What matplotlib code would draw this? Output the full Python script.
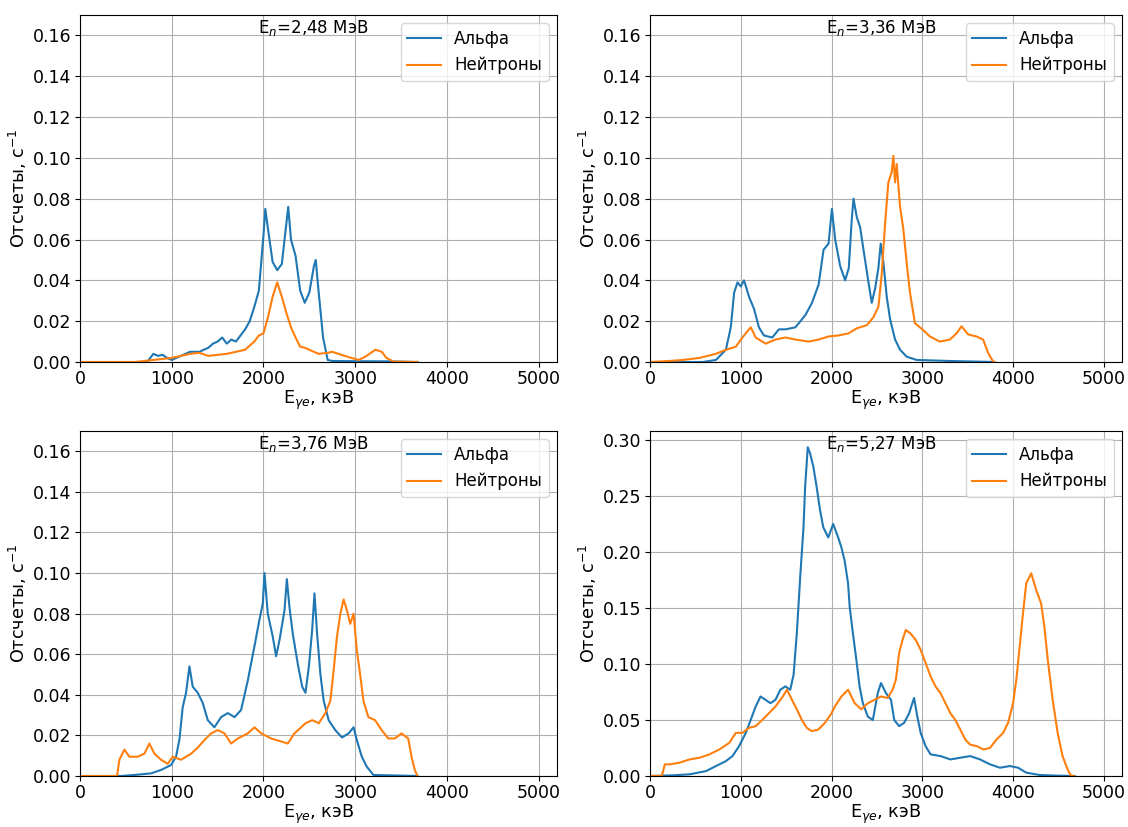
import matplotlib
matplotlib.use("Agg")
import matplotlib.pyplot as plt

plt.rcParams["font.family"] = ["DejaVu Sans"]
plt.rcParams["font.size"] = 12

# ---- spectra: (energy, keV) / (count rate, 1/s) ----
# E_n = 2.48 MeV
e1_alpha = [0, 700, 740, 800, 850, 900, 950, 1000, 1050, 1100, 1200, 1300, 1400, 1450,
            1500, 1550, 1600, 1650, 1700, 1750, 1800, 1850, 1900, 1950, 2000, 2020,
            2050, 2100, 2150, 2200, 2250, 2270, 2300, 2350, 2400, 2450, 2500, 2550,
            2570, 2600, 2650, 2700, 2750, 3000, 3400, 3680]
c1_alpha = [0, 0, 0.0005, 0.004, 0.003, 0.0035, 0.002, 0.001, 0.002, 0.003, 0.005,
            0.005, 0.007, 0.009, 0.010, 0.012, 0.009, 0.011, 0.010, 0.013, 0.016,
            0.020, 0.027, 0.035, 0.062, 0.075, 0.065, 0.049, 0.045, 0.048, 0.068,
            0.076, 0.060, 0.052, 0.035, 0.029, 0.034, 0.047, 0.050, 0.035, 0.012,
            0.001, 0.0005, 0.0004, 0.0003, 0]
e1_neut = [0, 600, 800, 900, 1000, 1100, 1200, 1300, 1400, 1500, 1600, 1700, 1800,
           1850, 1900, 1950, 2000, 2050, 2100, 2150, 2200, 2250, 2300, 2350, 2400,
           2450, 2500, 2600, 2700, 2750, 2850, 2960, 3040, 3110, 3220, 3290, 3340,
           3420, 3680]
c1_neut = [0, 0, 0.001, 0.0015, 0.002, 0.003, 0.004, 0.0045, 0.003, 0.0035, 0.004,
           0.005, 0.006, 0.008, 0.010, 0.013, 0.014, 0.022, 0.032, 0.039, 0.032,
           0.024, 0.017, 0.012, 0.0075, 0.007, 0.006, 0.004, 0.0045, 0.005, 0.0035,
           0.002, 0.001, 0.0026, 0.006, 0.005, 0.002, 0.0002, 0]

# E_n = 3.36 MeV
e2_alpha = [0, 580, 726, 836, 890, 927, 964, 1000, 1036, 1091, 1146, 1200, 1255,
            1347, 1420, 1493, 1602, 1712, 1785, 1858, 1912, 1967, 2004, 2040, 2095,
            2150, 2190, 2223, 2242, 2278, 2315, 2352, 2407, 2443, 2480, 2516, 2542,
            2571, 2608, 2645, 2700, 2755, 2828, 2938, 3300, 3800]
c2_alpha = [0, 0, 0.001, 0.006, 0.017, 0.034, 0.039, 0.037, 0.040, 0.032, 0.026,
            0.017, 0.013, 0.012, 0.016, 0.016, 0.017, 0.023, 0.029, 0.038, 0.055,
            0.058, 0.075, 0.060, 0.047, 0.040, 0.046, 0.070, 0.080, 0.071, 0.066,
            0.055, 0.039, 0.029, 0.036, 0.046, 0.058, 0.049, 0.032, 0.021, 0.011,
            0.006, 0.0026, 0.001, 0.0005, 0]
e2_neut = [0, 215, 361, 544, 726, 836, 945, 1018, 1091, 1110, 1164, 1274, 1383, 1493,
           1602, 1748, 1858, 1967, 2077, 2186, 2278, 2388, 2462, 2516, 2553, 2590,
           2626, 2663, 2681, 2700, 2718, 2755, 2791, 2828, 2864, 2919, 3000, 3084,
           3194, 3304, 3377, 3432, 3505, 3597, 3670, 3725, 3780, 3800]
c2_neut = [0, 0.0005, 0.001, 0.002, 0.004, 0.006, 0.0075, 0.012, 0.016, 0.017,
           0.012, 0.009, 0.011, 0.012, 0.011, 0.010, 0.011, 0.0125, 0.013, 0.014,
           0.0165, 0.018, 0.022, 0.027, 0.043, 0.068, 0.088, 0.093, 0.101, 0.088,
           0.097, 0.076, 0.065, 0.0485, 0.034, 0.019, 0.016, 0.0125, 0.010, 0.011,
           0.014, 0.0175, 0.0135, 0.0125, 0.011, 0.0045, 0.0002, 0]

# E_n = 3.76 MeV
e3_alpha = [0, 447, 593, 775, 884, 993, 1047, 1084, 1120, 1156, 1193, 1229, 1284,
            1338, 1393, 1465, 1538, 1611, 1684, 1756, 1829, 1902, 1956, 1993, 2011,
            2047, 2102, 2138, 2175, 2229, 2255, 2284, 2320, 2375, 2422, 2458, 2495,
            2531, 2556, 2585, 2621, 2657, 2711, 2783, 2856, 2928, 2982, 3018, 3072,
            3126, 3199, 3400, 3680]
c3_alpha = [0, 0, 0.0005, 0.0013, 0.003, 0.0054, 0.0095, 0.018, 0.034, 0.041, 0.054,
            0.044, 0.041, 0.036, 0.0275, 0.024, 0.029, 0.031, 0.029, 0.0325, 0.047,
            0.064, 0.077, 0.085, 0.100, 0.080, 0.0685, 0.059, 0.067, 0.0816, 0.097,
            0.083, 0.070, 0.055, 0.044, 0.041, 0.054, 0.072, 0.090, 0.070, 0.050,
            0.037, 0.0275, 0.0226, 0.019, 0.021, 0.024, 0.0177, 0.0095, 0.0046,
            0.0005, 0.0003, 0]
e3_neut = [0, 404, 429, 484, 538, 629, 702, 756, 811, 884, 956, 1011, 1102, 1211,
           1284, 1356, 1429, 1502, 1575, 1647, 1720, 1829, 1902, 1975, 2084, 2193,
           2265, 2338, 2411, 2458, 2531, 2603, 2675, 2729, 2765, 2801, 2838, 2874,
           2910, 2946, 2982, 3018, 3054, 3090, 3144, 3217, 3289, 3361, 3433, 3505,
           3578, 3614, 3650, 3679]
c3_neut = [0, 0, 0.008, 0.013, 0.0095, 0.0095, 0.011, 0.016, 0.011, 0.008, 0.006,
           0.0095, 0.008, 0.011, 0.014, 0.0177, 0.021, 0.0226, 0.021, 0.016, 0.0185,
           0.021, 0.024, 0.021, 0.0185, 0.017, 0.016, 0.021, 0.024, 0.026, 0.0275,
           0.026, 0.031, 0.037, 0.052, 0.0685, 0.080, 0.087, 0.0816, 0.075, 0.080,
           0.062, 0.050, 0.037, 0.029, 0.0275, 0.0226, 0.0185, 0.0185, 0.021,
           0.0185, 0.0095, 0.003, 0]

# E_n = 5.27 MeV
e4_alpha = [0, 255, 436, 618, 727, 836, 909, 982, 1055, 1109, 1164, 1218, 1273, 1327,
            1382, 1436, 1491, 1545, 1582, 1618, 1655, 1691, 1709, 1738, 1764, 1800,
            1836, 1873, 1909, 1964, 2018, 2073, 2109, 2145, 2182, 2200, 2236, 2273,
            2309, 2345, 2400, 2455, 2509, 2545, 2600, 2655, 2691, 2745, 2800, 2855,
            2909, 2945, 2982, 3036, 3091, 3200, 3309, 3418, 3527, 3636, 3745, 3855,
            3964, 4055, 4145, 4291, 4500, 4680]
c4_alpha = [0, 0.0006, 0.0015, 0.0044, 0.0089, 0.0133, 0.0178, 0.0267, 0.0385,
            0.050, 0.062, 0.071, 0.068, 0.065, 0.068, 0.077, 0.080, 0.077, 0.0904,
            0.128, 0.178, 0.222, 0.258, 0.2935, 0.288, 0.276, 0.258, 0.2376, 0.222,
            0.213, 0.225, 0.213, 0.204, 0.192, 0.172, 0.151, 0.127, 0.104, 0.080,
            0.065, 0.053, 0.050, 0.074, 0.083, 0.074, 0.068, 0.050, 0.0445, 0.0475,
            0.056, 0.0697, 0.053, 0.0385, 0.0267, 0.0193, 0.0178, 0.0148, 0.0163,
            0.0178, 0.0148, 0.0104, 0.0074, 0.0089, 0.0074, 0.003, 0.0009, 0.0003, 0]
e4_neut = [0, 130, 164, 218, 327, 436, 545, 655, 764, 873, 945, 1018, 1091, 1164,
           1236, 1309, 1382, 1455, 1509, 1564, 1618, 1673, 1727, 1782, 1855, 1927,
           2000, 2036, 2109, 2182, 2255, 2327, 2400, 2473, 2545, 2618, 2673, 2709,
           2745, 2782, 2818, 2873, 2927, 2982, 3036, 3091, 3145, 3200, 3255, 3309,
           3364, 3418, 3473, 3527, 3600, 3673, 3745, 3818, 3891, 3945, 4000, 4036,
           4073, 4109, 4145, 4200, 4255, 4309, 4345, 4382, 4436, 4491, 4545, 4600,
           4636, 4670]
c4_neut = [0, 0, 0.0104, 0.0104, 0.0119, 0.0148, 0.0163, 0.0193, 0.0237, 0.0296,
           0.0385, 0.0385, 0.043, 0.0445, 0.050, 0.056, 0.062, 0.070, 0.077, 0.068,
           0.0595, 0.050, 0.043, 0.040, 0.0415, 0.0475, 0.056, 0.062, 0.071, 0.077,
           0.065, 0.0595, 0.065, 0.068, 0.071, 0.0697, 0.077, 0.086, 0.110, 0.1215,
           0.1304, 0.127, 0.1215, 0.1126, 0.101, 0.089, 0.080, 0.074, 0.065, 0.056,
           0.050, 0.0415, 0.0326, 0.028, 0.0267, 0.0237, 0.025, 0.0326, 0.0385,
           0.0475, 0.065, 0.086, 0.116, 0.145, 0.172, 0.181, 0.166, 0.154, 0.133,
           0.104, 0.068, 0.0385, 0.0178, 0.006, 0.0006, 0]

neutron_energies = ["2,48", "3,36", "3,76", "5,27"]
series_labels = ["Альфа", "Нейтроны"]
x_ticks = [0, 1000, 2000, 3000, 4000, 5000]

panels = [
    (e1_alpha, c1_alpha, e1_neut, c1_neut, 0.17),
    (e2_alpha, c2_alpha, e2_neut, c2_neut, 0.17),
    (e3_alpha, c3_alpha, e3_neut, c3_neut, 0.17),
    (e4_alpha, c4_alpha, e4_neut, c4_neut, 0.308),
]

W, H = 1128, 827
fig = plt.figure(figsize=(W / 100, H / 100), dpi=100)

# axes boxes in pixels: (left, top, width, height)
boxes = [(80, 15, 477, 347), (650, 15, 472, 347),
         (80, 431, 477, 345), (650, 431, 472, 345)]

for (ea, ca, en, cn, ytop), (lx, ty, aw, ah), en_label in zip(panels, boxes, neutron_energies):
    ax = fig.add_axes([lx / W, (H - ty - ah) / H, aw / W, ah / H])
    ax.plot(ea, ca, color="tab:blue", lw=1.5, label=series_labels[0])
    ax.plot(en, cn, color="tab:orange", lw=1.5, label=series_labels[1])
    ax.set_xlim(0, 5200)
    ax.set_ylim(0, ytop)
    ax.set_xticks(x_ticks)
    ax.tick_params(labelsize=12.5, pad=2.5)
    ax.grid(True)
    ax.set_xlabel(r"E$_{\gamma e}$, кэВ", fontsize=12.7, labelpad=0)
    ax.set_ylabel(r"Отсчеты, с$^{-1}$", fontsize=12.7, labelpad=3)
    ax.text(0.49, 0.962, "E$_n$=" + en_label + " МэВ", transform=ax.transAxes,
            ha="center", va="center", fontsize=12)
    ax.legend(loc="upper right", fontsize=12)

fig.savefig("out.png", dpi=100)
